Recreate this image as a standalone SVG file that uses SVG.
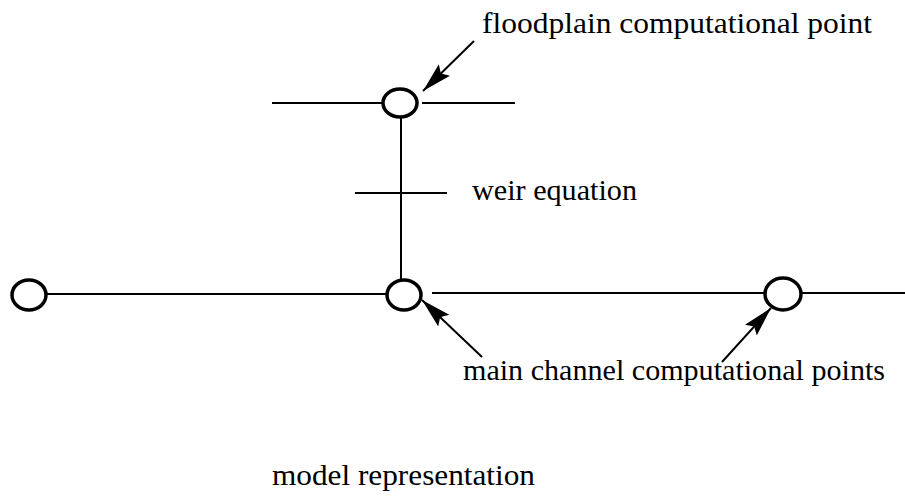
<svg xmlns="http://www.w3.org/2000/svg" width="905" height="497" viewBox="0 0 905 497">
<style>
.ln{stroke:#000;stroke-width:2;fill:none}
.nd{stroke:#000;stroke-width:3.5;fill:#fff}
.ar{stroke:#000;stroke-width:2;fill:none;marker-end:url(#ah)}
text{font-family:"Liberation Serif","Times New Roman",serif;font-size:30px;fill:#000}
</style>
<defs>
<marker id="ah" markerUnits="userSpaceOnUse" markerWidth="34" markerHeight="18" refX="30" refY="8" orient="auto" viewBox="0 0 34 16">
<path d="M0,0 L30,8 L0,16 L5,8 Z" fill="#000"/>
</marker>
</defs>
<rect width="905" height="497" fill="#fff"/>
<g id="connectors">
<line class="ln" x1="272" y1="103" x2="383" y2="103"/>
<line class="ln" x1="422" y1="103" x2="515" y2="103"/>
<line class="ln" x1="401" y1="117" x2="401" y2="280"/>
<line class="ln" x1="355" y1="193" x2="447" y2="193"/>
<line class="ln" x1="46" y1="294" x2="387" y2="294"/>
<line class="ln" x1="432" y1="293" x2="765" y2="293"/>
<line class="ln" x1="801" y1="293" x2="905" y2="293"/>
<line class="ar" x1="474" y1="41" x2="423" y2="91"/>
<line class="ar" x1="482" y1="357" x2="422" y2="300"/>
<line class="ar" x1="722" y1="362" x2="771" y2="308"/>
</g>
<g id="node-floodplain"><ellipse class="nd" cx="400" cy="103" rx="17" ry="14"/></g>
<g id="node-main-left"><ellipse class="nd" cx="29" cy="295" rx="17" ry="15"/></g>
<g id="node-main-mid"><ellipse class="nd" cx="404" cy="295" rx="17" ry="15"/></g>
<g id="node-main-right"><ellipse class="nd" cx="783" cy="294" rx="18" ry="16"/></g>
<g id="labels">
<text x="482" y="33" textLength="390" lengthAdjust="spacingAndGlyphs">floodplain computational point</text>
<text x="472" y="200" textLength="165" lengthAdjust="spacingAndGlyphs">weir equation</text>
<text x="463" y="380" textLength="422" lengthAdjust="spacingAndGlyphs">main channel computational points</text>
<text x="272" y="485" textLength="263" lengthAdjust="spacingAndGlyphs">model representation</text>
</g>
</svg>
